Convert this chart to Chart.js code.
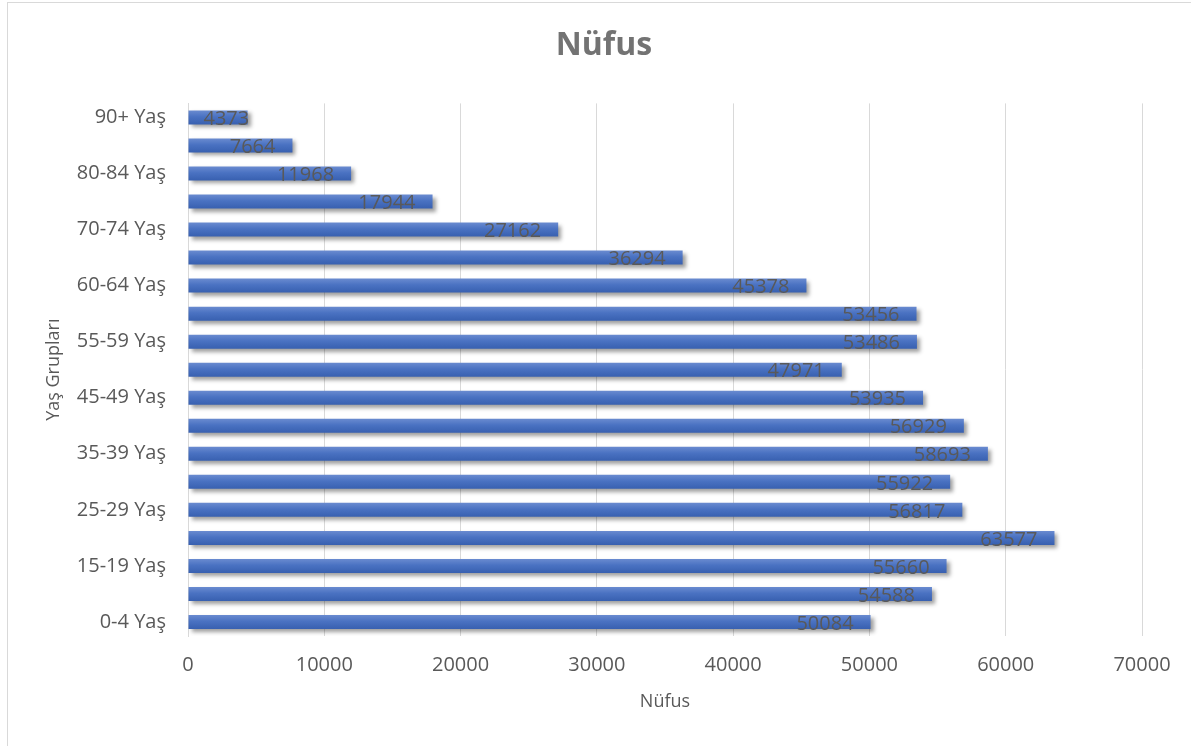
<!DOCTYPE html>
<html>
<head>
<meta charset="utf-8">
<script src="https://cdn.jsdelivr.net/npm/chart.js@4.4.1/dist/chart.umd.min.js"></script>
<style>
  html, body { margin: 0; padding: 0; background: #ffffff; }
  #wrap { position: relative; width: 1191px; height: 746px; }
  #frame { position: absolute; left: 7px; top: 2px; width: 1200px; height: 760px; border: 1px solid #d9d9d9; box-sizing: border-box; pointer-events: none; }
</style>
</head>
<body>
<div id="wrap">
  <canvas id="c" width="1191" height="746"></canvas>
  <div id="frame"></div>
</div>
<script>
// Age groups (in the order of the source table, bottom to top)
const categories = [
  "0-4 Yaş", "10-14 Yaş", "15-19 Yaş", "20-24 Yaş", "25-29 Yaş", "30-34 Yaş",
  "35-39 Yaş", "40-44 Yaş", "45-49 Yaş", "50-54 Yaş", "55-59 Yaş", "5-9 Yaş",
  "60-64 Yaş", "65-69 Yaş", "70-74 Yaş", "75-79 Yaş", "80-84 Yaş", "85-89 Yaş", "90+ Yaş"
];
// Population values
const nufus = [
  50084, 54588, 55660, 63577, 56817, 55922,
  58693, 56929, 53935, 47971, 53486, 53456,
  45378, 36294, 27162, 17944, 11968, 7664, 4373
];
// X axis ticks
const xTickMin = 0;
const xTickMax = 70000;
const xTickStep = 10000;

const FONT = "'Open Sans', 'DejaVu Sans', sans-serif";
const TEXT = '#595959';

const shadowPlugin = {
  id: 'barShadow',
  afterLayout(chart) {
    if (chart.titleBlock) { chart.titleBlock.left = 17; chart.titleBlock.right = 1191; }
  },
  beforeDatasetsDraw(chart) {
    const ctx = chart.ctx;
    ctx.save();
    ctx.shadowColor = 'rgba(0,0,0,0.38)';
    ctx.shadowBlur = 4;
    ctx.shadowOffsetX = 3;
    ctx.shadowOffsetY = 3;
  },
  afterDatasetsDraw(chart) {
    chart.ctx.restore();
  }
};

const labelPlugin = {
  id: 'valueLabels',
  afterDraw(chart) {
    const ctx = chart.ctx;
    const meta = chart.getDatasetMeta(0);
    const data = chart.data.datasets[0].data;
    ctx.save();
    ctx.font = '20px ' + FONT;
    ctx.fillStyle = TEXT;
    ctx.textBaseline = 'middle';
    ctx.textAlign = 'left';
    meta.data.forEach((bar, i) => {
      const txt = String(data[i]);
      const w = ctx.measureText(txt).width;
      let x = bar.x - 17 - w;
      if (x < bar.base + 15) x = bar.base + 15;
      ctx.fillText(txt, x, bar.y + 2);
    });
    ctx.restore();
  }
};

function barGradient(context) {
  const chart = context.chart;
  const yScale = chart.scales.y;
  if (!yScale || context.dataIndex === undefined) return '#4472C4';
  const y = yScale.getPixelForValue(context.dataIndex);
  if (!isFinite(y)) return '#4472C4';
  const g = chart.ctx.createLinearGradient(0, y - 7, 0, y + 7);
  g.addColorStop(0, '#6a8bd0');
  g.addColorStop(0.45, '#4a72c2');
  g.addColorStop(1, '#3860b0');
  return g;
}

new Chart(document.getElementById('c'), {
  type: 'bar',
  data: {
    labels: categories,
    datasets: [{
      label: 'Nüfus',
      data: nufus,
      backgroundColor: barGradient,
      borderWidth: 0,
      categoryPercentage: 1.0,
      barPercentage: 0.5
    }]
  },
  options: {
    indexAxis: 'y',
    responsive: false,
    animation: false,
    devicePixelRatio: 1,
    layout: { padding: { left: 0, right: 49, top: 0, bottom: 0 } },
    plugins: {
      legend: { display: false },
      tooltip: { enabled: false },
      title: {
        display: true,
        text: 'Nüfus',
        color: '#737373',
        font: { family: FONT, size: 32, weight: 'bold' },
        padding: { top: 27, bottom: 38 }
      }
    },
    scales: {
      x: {
        min: xTickMin,
        max: xTickMax,
        ticks: {
          stepSize: xTickStep,
          color: TEXT,
          font: { family: FONT, size: 20 },
          padding: 17,
          callback(value) { return String(value); }
        },
        grid: { color: '#d9d9d9', lineWidth: 1, drawTicks: false },
        border: { display: false },
        title: {
          display: true,
          text: 'Nüfus',
          color: TEXT,
          font: { family: FONT, size: 18 },
          padding: { top: 0, bottom: 33 }
        },
        afterFit(scale) { scale.height = 110; }
      },
      y: {
        reverse: true,
        ticks: {
          autoSkip: false,
          color: TEXT,
          font: { family: FONT, size: 20 },
          padding: 22,
          callback(value, index) { return index % 2 === 0 ? categories[index] : ''; }
        },
        grid: { display: false, drawTicks: false },
        border: { display: true, color: '#d9d9d9' },
        title: {
          display: true,
          text: 'Yaş Grupları',
          color: TEXT,
          font: { family: FONT, size: 18 },
          padding: { top: 43, bottom: 0 }
        },
        afterFit(scale) { scale.width = 188; }
      }
    }
  },
  plugins: [shadowPlugin, labelPlugin]
});
</script>
</body>
</html>
